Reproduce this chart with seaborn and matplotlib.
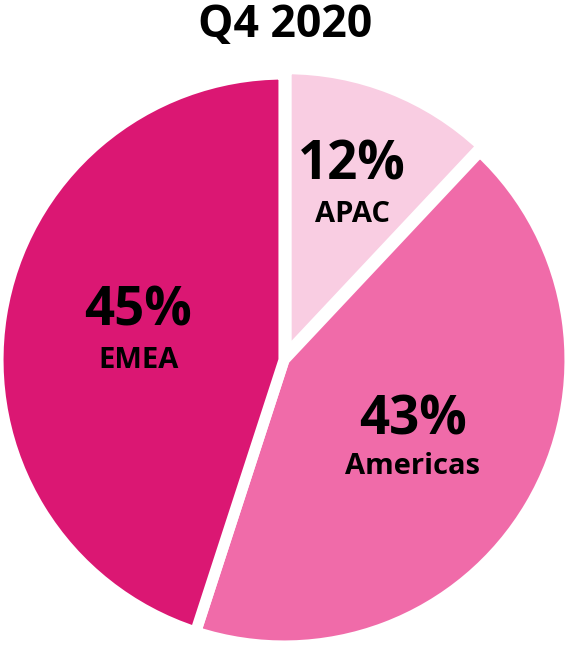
import matplotlib
matplotlib.use("Agg")
import matplotlib.pyplot as plt
import seaborn as sns

regions = ["APAC", "Americas", "EMEA"]
shares = [12, 43, 45]
colors = ["#F9CDE2", "#F06BA9", "#DB1773"]
title = "Q4 2020"

sns.set_theme(style="white")
plt.rcParams["font.family"] = ["Open Sans", "DejaVu Sans"]

W, H = 571, 646
fig = plt.figure(figsize=(W / 100, H / 100), dpi=100)
ax = fig.add_axes([0, 0, 1, 1])

S = 286.0  # px per data unit
cx, cy = 284.0, 360.0
ax.pie(shares, colors=colors, startangle=90, counterclock=False,
       explode=[0.02, 0, 0],
       wedgeprops=dict(edgecolor="white", linewidth=8, antialiased=True))
ax.set_xlim(-cx / S, (W - cx) / S)
ax.set_ylim(-(H - cy) / S, cy / S)
ax.set_aspect("auto")
ax.axis("off")

label_pos = {"APAC": (0.238, 0.680, 0.508),
             "Americas": (0.451, -0.210, -0.374),
             "EMEA": (-0.510, 0.168, 0.000)}
for name, val in zip(regions, shares):
    x, y1, y2 = label_pos[name]
    ax.text(x, y1, f"{val}%", ha="center", va="center", fontsize=38,
            fontweight="bold", color="black")
    ax.text(x, y2, name, ha="center", va="center", fontsize=21,
            fontweight="bold", color="black")

fig.text(285 / W, 1 - 26 / H, title, ha="center", va="center",
         fontsize=32, fontweight="bold", color="black")

fig.savefig("out.png", dpi=100)
